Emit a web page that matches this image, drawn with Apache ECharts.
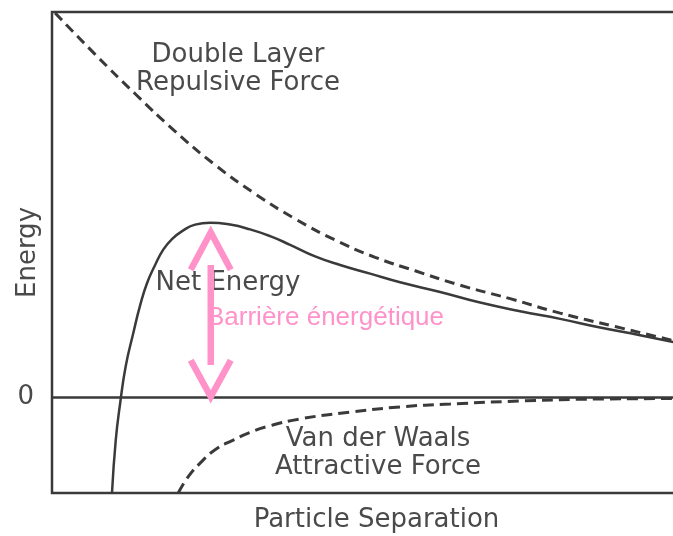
<!DOCTYPE html>
<html>
<head>
<meta charset="utf-8">
<script src="https://cdn.jsdelivr.net/npm/echarts@6/dist/echarts.min.js"></script>
<style>
  html, body { margin: 0; padding: 0; background: #fff; }
  #chart { width: 673px; height: 536px; }
</style>
</head>
<body>
<div id="chart"></div>
<script>
// separation (arbitrary units) and energy values
const repulsiveX = [0.05, 0.69, 1.33, 1.97, 2.61, 3.25, 3.89, 4.53, 5.17, 5.81, 6.53, 7.33, 8.13, 9.01, 10];
const repulsiveY = [3.99, 3.56, 3.15, 2.76, 2.41, 2.11, 1.85, 1.63, 1.45, 1.31, 1.16, 1.02, 0.87, 0.73, 0.575];

const netX = [0.96, 1.02, 1.09, 1.18, 1.30, 1.41, 1.52, 1.65, 1.78, 1.92, 2.10, 2.29, 2.53,
              2.85, 3.17, 3.49, 3.81, 4.21, 4.61, 5.09, 5.57, 6.21, 6.85, 7.49, 8.13, 8.77, 9.41, 10];
const netY = [-1.0, -0.45, -0.07, 0.32, 0.66, 0.95, 1.18, 1.37, 1.53, 1.64, 1.73, 1.79, 1.81,
              1.79, 1.74, 1.67, 1.58, 1.46, 1.37, 1.28, 1.19, 1.09, 0.98, 0.89, 0.81, 0.72, 0.64, 0.56];

const vdwX = [2.02, 2.18, 2.37, 2.61, 2.90, 3.17, 3.44, 3.97, 4.77, 5.57, 6.37, 7.49, 8.77, 10];
const vdwY = [-1.0, -0.83, -0.69, -0.55, -0.45, -0.37, -0.31, -0.23, -0.16, -0.105, -0.075, -0.044, -0.023, -0.018];

// energy barrier arrow (data units)
const arrowShaftX = [2.54, 2.54];
const arrowShaftY = [1.37, 0.33];
const arrowTopX = [2.22, 2.54, 2.86];
const arrowTopY = [1.32, 1.71, 1.32];
const arrowBottomX = [2.22, 2.54, 2.86];
const arrowBottomY = [0.38, 0.0, 0.38];

const yTicks = [0];

const zip = (xs, ys) => xs.map((x, i) => [x, ys[i]]);

const chart = echarts.init(document.getElementById('chart'));

const textColor = '#4a4a4a';
const lineColor = '#3a3a3a';
const pink = '#ff93c9';
const labelFont = 'DejaVu Sans';
const labelSize = 26;

const arrowSeries = (name, xs, ys) => ({
  name: name,
  type: 'line',
  data: zip(xs, ys),
  showSymbol: false,
  z: 6,
  silent: true,
  lineStyle: { color: pink, width: 6.5, join: 'miter', cap: 'butt' }
});

const option = {
  animation: false,
  grid: {
    left: 52,
    right: -4,
    top: 12,
    bottom: 43,
    outerBoundsMode: 'none',
    containLabel: false,
    show: true,
    borderColor: lineColor,
    borderWidth: 2.5
  },
  xAxis: {
    type: 'value',
    min: 0,
    max: 10,
    axisLine: { show: false },
    axisTick: { show: false },
    axisLabel: { show: false },
    splitLine: { show: false },
    name: 'Particle Separation',
    nameLocation: 'middle',
    nameGap: 14,
    nameMoveOverlap: false,
    nameTextStyle: {
      color: textColor,
      fontSize: labelSize,
      fontFamily: labelFont,
      padding: [0, 0, 0, 24]
    }
  },
  yAxis: {
    type: 'value',
    min: -1,
    max: 4,
    interval: 1,
    axisLine: { show: false },
    axisTick: { show: false },
    splitLine: { show: false },
    axisLabel: {
      margin: 18,
      color: textColor,
      fontSize: labelSize,
      fontFamily: labelFont,
      formatter: v => (yTicks.includes(v) ? String(v) : '')
    },
    name: 'Energy',
    nameLocation: 'middle',
    nameGap: 11,
    nameRotate: 90,
    nameMoveOverlap: false,
    nameTextStyle: {
      color: textColor,
      fontSize: labelSize,
      fontFamily: labelFont
    }
  },
  series: [
    {
      name: 'Double Layer Repulsive Force',
      type: 'line',
      data: zip(repulsiveX, repulsiveY),
      smooth: true,
      showSymbol: false,
      lineStyle: { color: lineColor, width: 3, type: [10, 6] },
      markLine: {
        silent: true,
        symbol: 'none',
        label: { show: false },
        lineStyle: { color: lineColor, width: 2.5, type: 'solid' },
        data: [{ yAxis: 0 }]
      }
    },
    {
      name: 'Net Energy',
      type: 'line',
      data: zip(netX, netY),
      smooth: true,
      showSymbol: false,
      lineStyle: { color: lineColor, width: 2.5 }
    },
    {
      name: 'Van der Waals Attractive Force',
      type: 'line',
      data: zip(vdwX, vdwY),
      smooth: true,
      showSymbol: false,
      lineStyle: { color: lineColor, width: 3, type: [11, 6] }
    },
    arrowSeries('arrow shaft', arrowShaftX, arrowShaftY),
    arrowSeries('arrow top', arrowTopX, arrowTopY),
    arrowSeries('arrow bottom', arrowBottomX, arrowBottomY)
  ],
  graphic: [
    {
      type: 'text', z: 1,
      style: {
        text: 'Double Layer\nRepulsive Force',
        x: 238, y: 69, align: 'center', verticalAlign: 'middle',
        fill: textColor, font: labelSize + 'px "DejaVu Sans"', lineHeight: 28
      }
    },
    {
      type: 'text', z: 1,
      style: {
        text: 'Net Energy', x: 228, y: 283, align: 'center', verticalAlign: 'middle',
        fill: textColor, font: labelSize + 'px "DejaVu Sans"'
      }
    },
    {
      type: 'text', z: 1,
      style: {
        text: 'Van der Waals\nAttractive Force',
        x: 378, y: 453, align: 'center', verticalAlign: 'middle',
        fill: textColor, font: labelSize + 'px "DejaVu Sans"', lineHeight: 28
      }
    },
    {
      type: 'text', z: 1,
      style: {
        text: 'Barrière énergétique', x: 207, y: 318, verticalAlign: 'middle',
        fill: pink, font: '26px "Liberation Sans"'
      }
    }
  ]
};

chart.setOption(option);
</script>
</body>
</html>
